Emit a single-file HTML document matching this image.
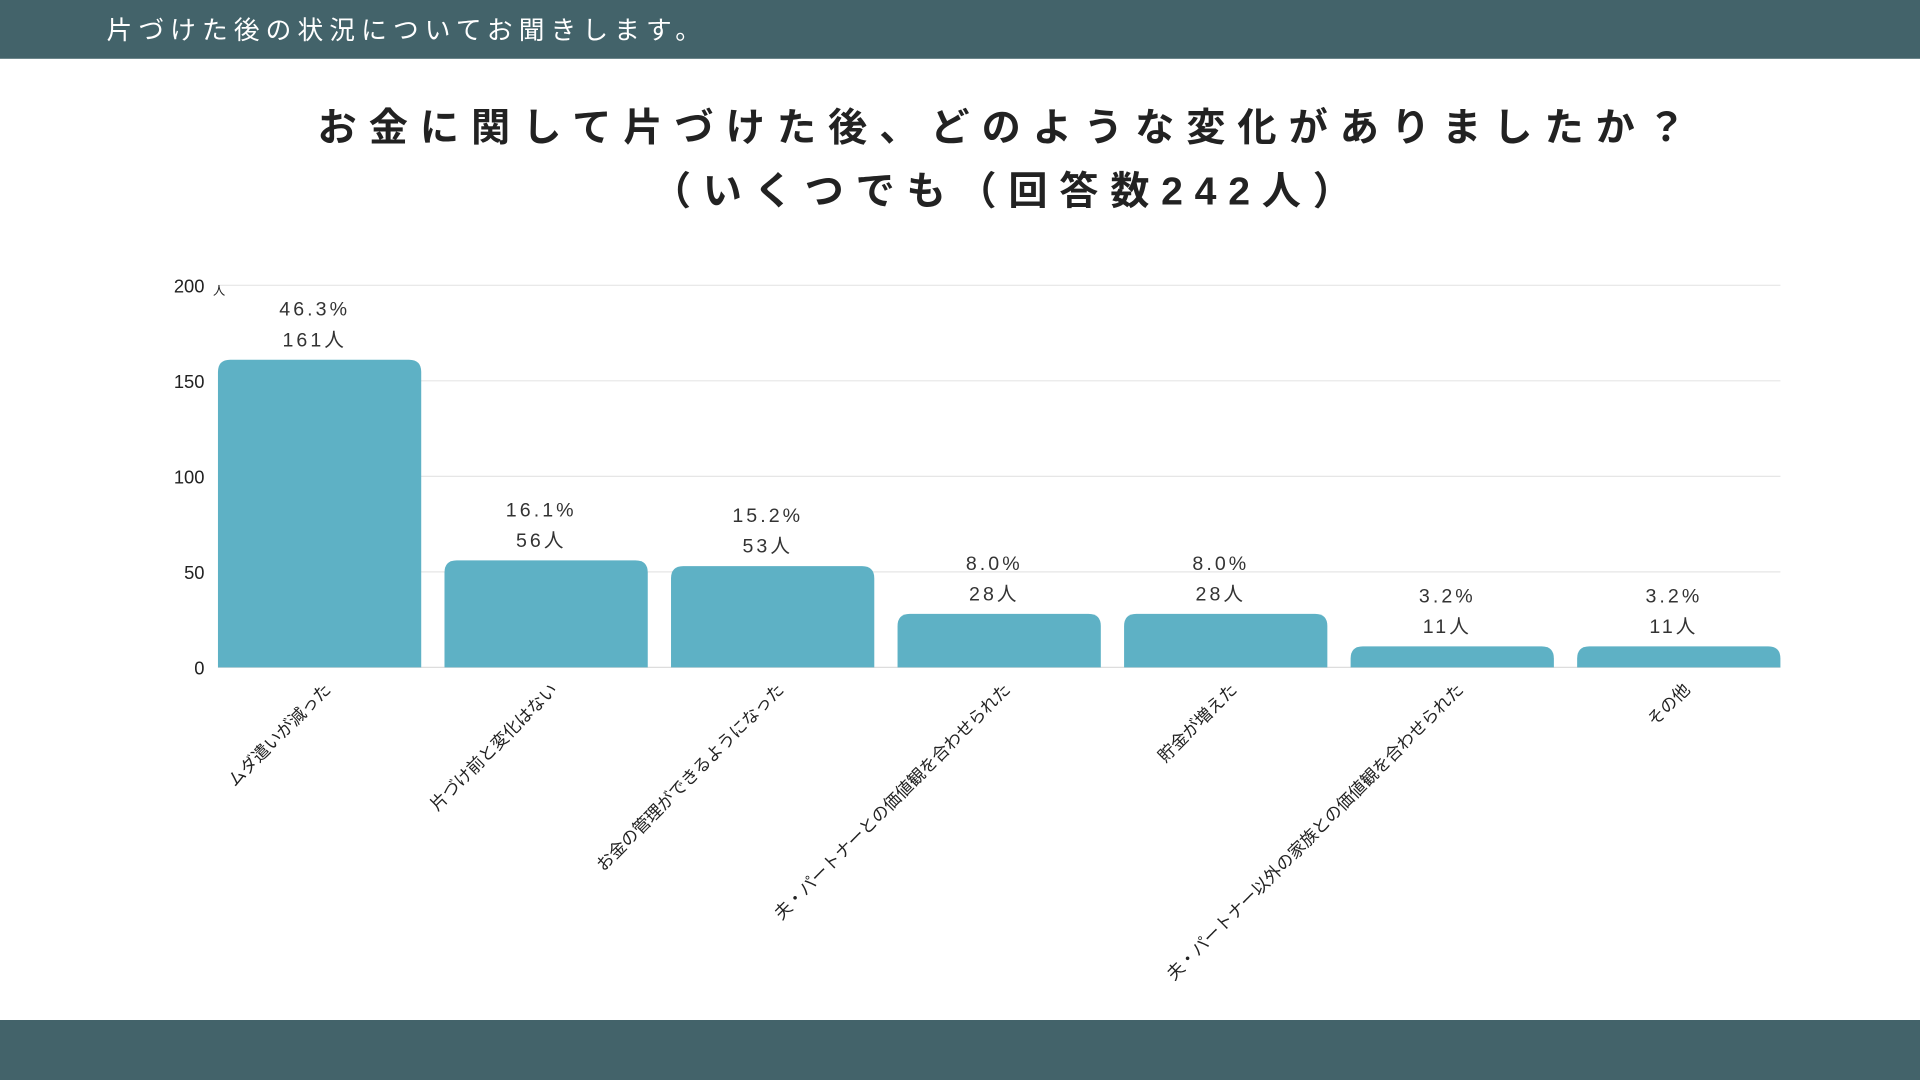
<!DOCTYPE html>
<html><head><meta charset="utf-8"><style>
html,body{margin:0;padding:0;width:1920px;height:1080px;overflow:hidden;background:#fff}
svg{display:block}
text{font-family:"Liberation Sans","Noto Sans CJK JP",sans-serif}
</style></head><body>
<svg id="chart" width="1920" height="1080" viewBox="0 0 1568 882" xmlns="http://www.w3.org/2000/svg">
<rect x="0" y="0" width="1568" height="48" fill="#43636a"/>
<text x="87" y="32" font-size="21" fill="#fff" letter-spacing="5">片づけた後の状況についてお聞きします。</text>
<rect x="0" y="833" width="1568" height="49" fill="#43636a"/>
<text x="823" y="115" font-size="32" font-weight="bold" fill="#222" text-anchor="middle" letter-spacing="9.8">お金に関して片づけた後、どのような変化がありましたか？</text>
<text x="823" y="167" font-size="32" font-weight="bold" fill="#222" text-anchor="middle" letter-spacing="9.6">（いくつでも（回答数242人）</text>
<g id="plot"></g>
</svg>
<script>
const categories=["ムダ遣いが減った","片づけ前と変化はない","お金の管理ができるようになった","夫・パートナーとの価値観を合わせられた","貯金が増えた","夫・パートナー以外の家族との価値観を合わせられた","その他"];
const counts=[161,56,53,28,28,11,11];
const percents=["46.3%","16.1%","15.2%","8.0%","8.0%","3.2%","3.2%"];
const yTicks=[0,50,100,150,200];
const NS="http://www.w3.org/2000/svg";
const g=document.getElementById('plot');
const X0=178,X1=1454,Y0=545,Y1=233,YMAX=200;
const bw=166, band=(X1-X0-bw)/(categories.length-1);
const y=v=>Y0-(v/YMAX)*(Y0-Y1);
const xc=i=>X0+band*i+bw/2;
function mk(t,a){const e=document.createElementNS(NS,t);for(const k in a)e.setAttribute(k,a[k]);g.appendChild(e);return e;}
yTicks.forEach(t=>{
  const l=mk('line',{x1:X0,x2:X1,y1:y(t),y2:y(t),stroke:t===0?'#ddd':'#e6e6e6','stroke-width':1});
  
  
  const tx=mk('text',{x:167,y:y(t)+6,'font-size':15,fill:'#222','text-anchor':'end'});
  tx.textContent=t;
  
  
});
const unit=mk('text',{x:174,y:y(200)+8,'font-size':10,fill:'#222'});unit.textContent='人';


counts.forEach((v,i)=>{
  const x=X0+band*i, top=y(v), h=Y0-top, r=Math.min(10,h);
  const p=mk('path',{d:`M${x},${Y0}V${top+r}Q${x},${top} ${x+r},${top}H${x+bw-r}Q${x+bw},${top} ${x+bw},${top+r}V${Y0}Z`,fill:'#5eb1c5'});
  
  
  const pt=mk('text',{x:xc(i)-4,y:top-36,'font-size':16,fill:'#333','text-anchor':'middle','letter-spacing':2.5});
  pt.textContent=percents[i];
  
  
  const ct=mk('text',{x:xc(i)-4,y:top-11,'font-size':16,fill:'#333','text-anchor':'middle','letter-spacing':2.5});
  ct.textContent=v+'人';
  
  
  const lx=xc(i)+10, ly=564;
  const cl=mk('text',{x:lx,y:ly,'font-size':14,fill:'#222','text-anchor':'end',transform:`rotate(-45 ${lx} ${ly})`});
  cl.textContent=categories[i];
  
  
});
</script>
</body></html>
